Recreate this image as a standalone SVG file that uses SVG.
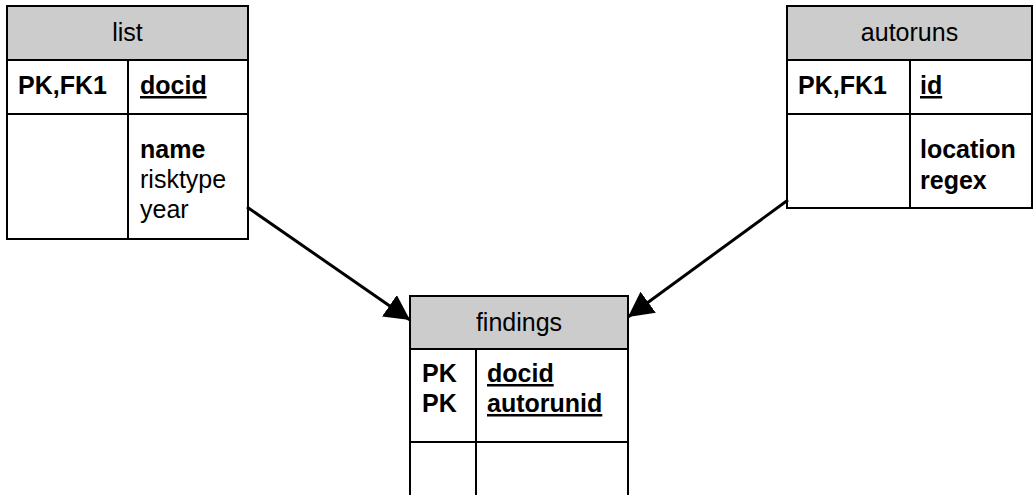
<svg xmlns="http://www.w3.org/2000/svg" width="1033" height="495" viewBox="0 0 1033 495">
<style>
.box{fill:#ffffff;stroke:#000000;stroke-width:2}
.hdr{fill:#cccccc;stroke:#000000;stroke-width:2}
.ln{stroke:#000000;stroke-width:2;fill:none}
text{font-family:"Liberation Sans",Arial,sans-serif;font-size:25px;fill:#000000}
.t{text-anchor:middle}
.b{font-weight:bold}
.u{text-decoration:underline}
.conn{stroke:#000000;stroke-width:3;fill:none}
</style>
<defs>
<marker id="ah" markerUnits="userSpaceOnUse" markerWidth="26" markerHeight="26" refX="25" refY="13" orient="auto">
<path d="M0,0 L25,13 L0,26 z" fill="#000000"/>
</marker>
</defs>
<rect width="1033" height="495" fill="#ffffff"/>
<g id="list">
<rect class="box" x="7" y="6" width="241" height="233"/>
<rect class="hdr" x="7" y="6" width="241" height="54"/>
<line class="ln" x1="7" y1="114" x2="248" y2="114"/>
<line class="ln" x1="128" y1="60" x2="128" y2="239"/>
<text class="t" x="127.5" y="41">list</text>
<text class="b" x="18" y="94">PK,FK1</text>
<text class="b u" x="140" y="94">docid</text>
<text class="b" x="140" y="158">name</text>
<text x="140" y="188">risktype</text>
<text x="140" y="218">year</text>
</g>
<g id="autoruns">
<rect class="box" x="787" y="6" width="245" height="202"/>
<rect class="hdr" x="787" y="6" width="245" height="54"/>
<line class="ln" x1="787" y1="114" x2="1032" y2="114"/>
<line class="ln" x1="910" y1="60" x2="910" y2="208"/>
<text class="t" x="909.5" y="41">autoruns</text>
<text class="b" x="798" y="94">PK,FK1</text>
<text class="b u" x="920" y="94">id</text>
<text class="b" x="920" y="158">location</text>
<text class="b" x="920" y="189">regex</text>
</g>
<g id="findings">
<rect class="box" x="410" y="296" width="218" height="210"/>
<rect class="hdr" x="410" y="296" width="218" height="53"/>
<line class="ln" x1="410" y1="442" x2="628" y2="442"/>
<line class="ln" x1="476" y1="349" x2="476" y2="506"/>
<text class="t" x="519" y="331">findings</text>
<text class="b" x="422" y="382">PK</text>
<text class="b" x="422" y="412">PK</text>
<text class="b u" x="487" y="382">docid</text>
<text class="b u" x="487" y="412">autorunid</text>
</g>
<g id="connectors">
<line class="conn" x1="247" y1="207" x2="410" y2="320" marker-end="url(#ah)"/>
<line class="conn" x1="788" y1="200" x2="628" y2="317" marker-end="url(#ah)"/>
</g>
</svg>
